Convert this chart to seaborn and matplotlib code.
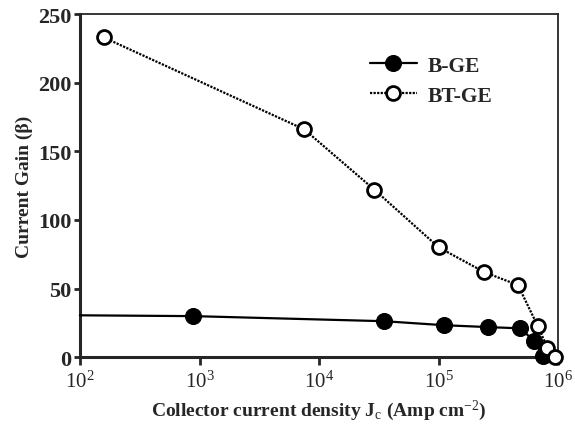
import matplotlib
matplotlib.use('Agg')
import pandas as pd
import matplotlib.pyplot as plt
import seaborn as sns

# 数据
b_ge_jc = [1.0e2, 8.9e2, 3.5e4, 1.1e5, 2.6e5, 4.8e5, 6.3e5, 7.4e5]
b_ge_gain = [30.5, 29.9, 26.2, 23.3, 21.9, 21.0, 11.7, 1.0]
bt_ge_jc = [1.58e2, 7.5e3, 2.9e4, 1.0e5, 2.4e5, 4.6e5, 6.7e5, 8.1e5, 9.3e5]
bt_ge_gain = [233, 166, 122, 80, 62, 52.5, 23, 7, 0]
x_ticks = [1e2, 1e3, 1e4, 1e5, 1e6]
x_tick_labels = ['$10^2$', '$10^3$', '$10^4$', '$10^5$', '$10^6$']
y_ticks = [0, 50, 100, 150, 200, 250]

sns.set_style('ticks')
plt.rcParams['font.family'] = ['Liberation Serif', 'DejaVu Serif']
plt.rcParams['mathtext.fontset'] = 'custom'
plt.rcParams['mathtext.rm'] = 'Liberation Serif'
plt.rcParams['mathtext.it'] = 'Liberation Serif:italic'
plt.rcParams['mathtext.bf'] = 'Liberation Serif:bold'

df_b = pd.DataFrame({'jc': b_ge_jc, 'gain': b_ge_gain})
df_bt = pd.DataFrame({'jc': bt_ge_jc, 'gain': bt_ge_gain})

fig = plt.figure(figsize=(5.75, 4.31), dpi=100)
ax = fig.add_axes([0.139, 0.169, 0.832, 0.796])

sns.lineplot(data=df_b, x='jc', y='gain', ax=ax, color='black', lw=1.6,
             marker='o', markersize=11.5, markerfacecolor='black', markeredgecolor='black',
             markevery=list(range(1, len(b_ge_jc))), label='B-GE', clip_on=False, zorder=3)
sns.lineplot(data=df_bt, x='jc', y='gain', ax=ax, color='black', lw=1.6, linestyle=(0, (1, 0.6)),
             marker='o', markersize=10, markerfacecolor='white', markeredgecolor='black',
             markeredgewidth=2, label='BT-GE', clip_on=False, zorder=4)

ax.set_xscale('log')
ax.set_xlim(1e2, 1e6)
ax.set_ylim(0, 250)
ax.set_xticks(x_ticks)
ax.set_xticklabels(x_tick_labels)
ax.minorticks_off()
ax.set_yticks(y_ticks)
ax.tick_params(axis='x', direction='out', length=6, width=2, labelsize=15, pad=4)
ax.tick_params(axis='y', direction='out', length=4, width=2, labelsize=16, pad=2)
for lab in ax.get_yticklabels():
    lab.set_fontweight('bold')

for side in ['left', 'bottom']:
    ax.spines[side].set_linewidth(2.2)
for side in ['top', 'right']:
    ax.spines[side].set_linewidth(1.3)

ax.set_xlabel('Collector current density J$_{\\mathrm{c}}$ (Amp cm$^{-2}$)', fontsize=14, fontweight='bold')
ax.set_ylabel('Current Gain (β)', fontsize=14, fontweight='bold')

leg = ax.legend(loc='upper left', bbox_to_anchor=(0.565, 0.935), frameon=False,
                handlelength=2.2, handletextpad=0.5, labelspacing=0.45,
                prop={'weight': 'bold', 'size': 15.5})

plt.savefig('out.png', dpi=100)
